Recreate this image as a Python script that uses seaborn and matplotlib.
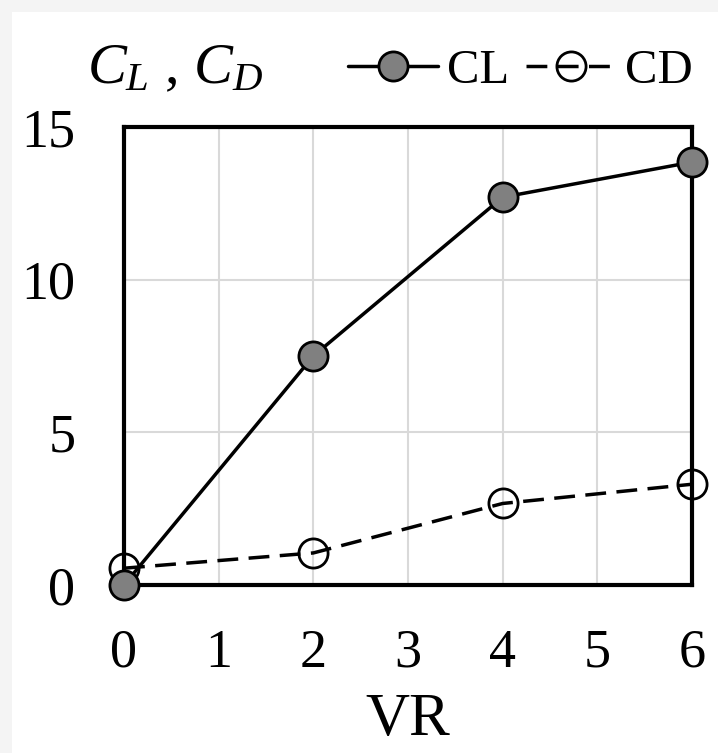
import matplotlib
matplotlib.use("Agg")
import matplotlib.pyplot as plt
from matplotlib.patches import Rectangle
import seaborn as sns
import pandas as pd

# values
vr = [0, 2, 4, 6]
cl = [0.0, 7.5, 12.7, 13.85]
cd = [0.55, 1.05, 2.67, 3.3]

x_ticks = [0, 1, 2, 3, 4, 5, 6]
y_ticks = [0, 5, 10, 15]

sns.set_style("whitegrid")
plt.rcParams['font.family'] = ['Liberation Serif', 'DejaVu Serif']
plt.rcParams['mathtext.fontset'] = 'custom'
plt.rcParams['mathtext.rm'] = 'Liberation Serif'
plt.rcParams['mathtext.it'] = 'Liberation Serif:italic'
for key in ['text.color', 'axes.labelcolor', 'xtick.color', 'ytick.color']:
    plt.rcParams[key] = 'black'

df = pd.DataFrame({"VR": vr, "CL": cl, "CD": cd})

fig = plt.figure(figsize=(7.18, 7.53), dpi=100, facecolor="white")
# light grey frame on the top and left edge, as in the reference
fig.patches.append(Rectangle((0, 0), 12 / 718, 1, transform=fig.transFigure,
                             facecolor="#f4f4f4", edgecolor="none", zorder=0))
fig.patches.append(Rectangle((0, 1 - 12 / 753), 1, 12 / 753, transform=fig.transFigure,
                             facecolor="#f4f4f4", edgecolor="none", zorder=0))

ax = fig.add_axes([124 / 718, 1 - 585 / 753, 568 / 718, 458 / 753])

sns.lineplot(data=df, x="VR", y="CD", ax=ax, color="black", lw=2.5,
             linestyle=(0, (6, 3)), marker="o", markersize=21,
             markerfacecolor="none", markeredgecolor="black", markeredgewidth=2,
             label="CD", clip_on=False, zorder=4)
sns.lineplot(data=df, x="VR", y="CL", ax=ax, color="black", lw=2.5,
             marker="o", markersize=21, markerfacecolor="#808080",
             markeredgecolor="black", markeredgewidth=2,
             label="CL", clip_on=False, zorder=5)

ax.set_xlim(0, 6)
ax.set_ylim(0, 15)
ax.set_xticks(x_ticks)
ax.set_yticks(y_ticks)
ax.grid(True, color="#d9d9d9", lw=1.5)
for s in ax.spines.values():
    s.set_color("black")
    s.set_linewidth(3)
    s.set_zorder(3)
ax.tick_params(axis="both", direction="out", length=12, width=2.5, color="black",
               labelsize=39)
ax.tick_params(axis="y", pad=23)
ax.tick_params(axis="x", pad=19)
ax.set_xlabel("VR", fontsize=44, labelpad=10)
ax.set_ylabel("")

ax.text(-0.065, 1.096, r"$C_L$ , $C_D$", transform=ax.transAxes, fontsize=42,
        ha="left", va="baseline")

h, l = ax.get_legend_handles_labels()
ax.legend([h[1], h[0]], [l[1], l[0]], loc="center right", bbox_to_anchor=(1.002, 1.122),
          frameon=False, fontsize=35, handlelength=1.85, handletextpad=0.2,
          columnspacing=0.33, ncol=2, borderaxespad=0, borderpad=0)

fig.savefig("out.png", dpi=100, facecolor=fig.get_facecolor())
